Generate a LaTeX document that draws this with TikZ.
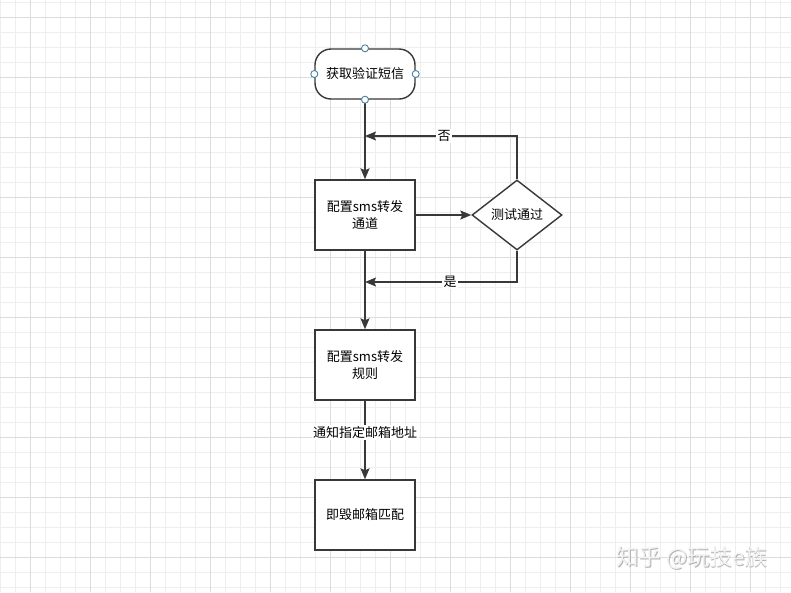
\documentclass[tikz,border=0pt]{standalone}
\usepackage{fontspec}
\newfontfamily\cjk{Noto Sans CJK SC}
\usetikzlibrary{arrows.meta,shapes.geometric,positioning}
\definecolor{handleblue}{RGB}{74,132,160}
\definecolor{gridminor}{RGB}{238,238,238}
\definecolor{gridmajor}{RGB}{220,220,220}

\begin{document}
\begin{tikzpicture}[x=1pt, y=-1pt, font=\cjk\fontsize{13}{17}\selectfont]
\tikzstyle{proc}=[rectangle, draw=black!78, line width=1.4pt, fill=white,
                  minimum width=100pt, minimum height=70pt, align=center, inner sep=2pt]
\tikzstyle{term}=[rectangle, rounded corners=16pt, draw=black!78, line width=1.4pt,
                  fill=white, minimum width=100pt, minimum height=50pt]
\tikzstyle{dec}=[diamond, draw=black!78, line width=1.4pt, fill=white, aspect=1.3,
                 minimum width=90pt, minimum height=70pt, inner sep=0pt]
\tikzstyle{handle}=[circle, draw=handleblue, fill=white, line width=0.9pt,
                    inner sep=0pt, minimum size=7pt]
\tikzstyle{lbl}=[fill=white, inner sep=1.5pt]
\tikzstyle{line}=[draw=black!78, line width=1.4pt,
                  -{Stealth[length=11pt, width=9pt, inset=2pt]}]
\tikzstyle{wmtext}=[font=\cjk\fontsize{22.5}{23}\selectfont]
% grid
\useasboundingbox (0,0) rectangle (791,592);
\fill[white] (0,0) rectangle (791,592);
\foreach \x in {0,15,...,790} \draw[gridminor, line width=0.8pt] (\x,0) -- (\x,592);
\foreach \y in {2,17,...,592} \draw[gridminor, line width=0.8pt] (0,\y) -- (791,\y);
\foreach \x in {30,90,...,790} \draw[gridmajor, line width=0.8pt] (\x,0) -- (\x,592);
\foreach \y in {17,77,...,592} \draw[gridmajor, line width=0.8pt] (0,\y) -- (791,\y);
% shapes
\node[term] (get) at (365,74) {获取验证短信};
\node[proc] (chan) at (365,215) {配置sms转发\\通道};
\node[dec] (test) at (517,215) {测试通过};
\node[proc] (rule) at (365,365) {配置sms转发\\规则};
\node[proc] (match) at (365,515) {即毁邮箱匹配};
\coordinate (no) at (365,136);
\coordinate (yes) at (365,282);
% connectors
\draw[line] (get) -- (chan);
\draw[line] (chan) -- (test);
\draw[line] (chan) -- (rule);
\draw[line] (rule) -- node[lbl, pos=0.4]{通知指定邮箱地址} (match);
\draw[line] (test.north) |- node[lbl, pos=0.74]{否} (no);
\draw[line] (test.south) |- node[lbl, pos=0.72]{是} (yes);
% handles
\foreach \a in {north,south,east,west} \node[handle] (h-\a) at (get.\a) {};
% watermark
\node[wmtext, text=gray!60] (wmshadow) at (692.8,558.8) {知乎 @玩技e族};
\node[wmtext, text=gray!10] (wm) at (692,558) {知乎 @玩技e族};
\end{tikzpicture}
\end{document}
